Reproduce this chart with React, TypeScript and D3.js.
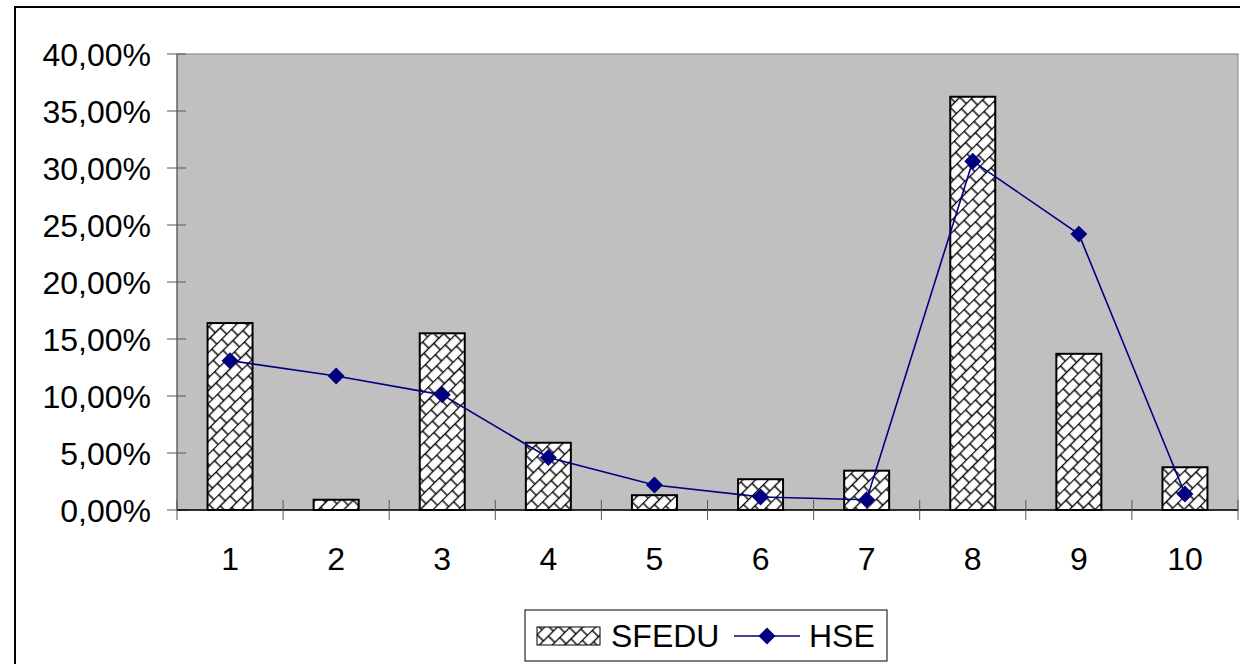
import React, { useEffect, useRef } from "react";
import * as d3 from "d3";

const categories = ["1", "2", "3", "4", "5", "6", "7", "8", "9", "10"];
const sfedu = [16.4, 0.9, 15.5, 5.9, 1.3, 2.7, 3.45, 36.25, 13.7, 3.75];
const hse = [13.1, 11.75, 10.1, 4.6, 2.2, 1.15, 0.9, 30.6, 24.2, 1.4];
const yTicks = [0, 5, 10, 15, 20, 25, 30, 35, 40];

const App = () => {
  const svgRef: any = useRef();

  useEffect(() => {
    const svg = d3.select(svgRef.current);
    svg.selectAll("*").remove();
    const width = 1240;
    const height = 664;
    const margin = { top: 54, right: 2, bottom: 154, left: 177 };
    const font = "Liberation Sans, Arial, sans-serif";
    svg.attr("width", width).attr("height", height);

    // brick-like diagonal hatch
    const defs = svg.append("defs");
    const pat = defs
      .append("pattern")
      .attr("id", "brick")
      .attr("patternUnits", "userSpaceOnUse")
      .attr("width", 14)
      .attr("height", 18)
      .attr("patternTransform", "rotate(-45)");
    pat.append("rect").attr("width", 14).attr("height", 18).attr("fill", "#fff");
    const segs = [
      [0, 0.5, 14, 0.5],
      [0, 9.5, 14, 9.5],
      [1, 0, 1, 9],
      [8, 9, 8, 18],
    ];
    segs.forEach((s) =>
      pat
        .append("line")
        .attr("x1", s[0]).attr("y1", s[1]).attr("x2", s[2]).attr("y2", s[3])
        .attr("stroke", "#000").attr("stroke-width", 1.4)
    );

    const x = d3
      .scaleBand()
      .domain(categories)
      .range([margin.left, width - margin.right]);
    const y = d3
      .scaleLinear()
      .domain([0, 40])
      .range([height - margin.bottom, margin.top]);

    // outer frame
    svg
      .append("rect")
      .attr("x", 15).attr("y", 7)
      .attr("width", 1240).attr("height", 700)
      .attr("fill", "#fff").attr("stroke", "#000").attr("stroke-width", 2);

    // plot area
    svg
      .append("rect")
      .attr("x", margin.left).attr("y", margin.top)
      .attr("width", width - margin.right - margin.left)
      .attr("height", y(0) - margin.top)
      .attr("fill", "#c0c0c0").attr("stroke", "#808080").attr("stroke-width", 1);

    // y axis
    svg
      .append("line")
      .attr("x1", margin.left).attr("x2", margin.left)
      .attr("y1", margin.top).attr("y2", y(0))
      .attr("stroke", "#555").attr("stroke-width", 1);
    svg
      .selectAll(".ytick")
      .data(yTicks)
      .join("line")
      .attr("class", "ytick")
      .attr("x1", margin.left - 10).attr("x2", margin.left + 9)
      .attr("y1", (d) => y(d)).attr("y2", (d) => y(d))
      .attr("stroke", "#555").attr("stroke-width", 1);
    svg
      .selectAll(".ylabel")
      .data(yTicks)
      .join("text")
      .attr("class", "ylabel")
      .attr("x", 151)
      .attr("y", (d) => y(d))
      .attr("dy", "0.36em")
      .attr("text-anchor", "end")
      .attr("font-family", font)
      .attr("font-size", 32)
      .text((d) => d.toFixed(2).replace(".", ",") + "%");

    // bars
    const bw = 45;
    svg
      .selectAll(".bar")
      .data(sfedu)
      .join("rect")
      .attr("class", "bar")
      .attr("x", (d, i) => x(categories[i])! + x.bandwidth() / 2 - bw / 2)
      .attr("y", (d) => y(d))
      .attr("width", bw)
      .attr("height", (d) => y(0) - y(d))
      .attr("fill", "url(#brick)")
      .attr("stroke", "#000")
      .attr("stroke-width", 2);

    // x axis
    svg
      .append("line")
      .attr("x1", margin.left).attr("x2", width - margin.right)
      .attr("y1", y(0)).attr("y2", y(0))
      .attr("stroke", "#000").attr("stroke-width", 1.5);
    const bounds = categories.map((c) => x(c)!).concat([width - margin.right]);
    svg
      .selectAll(".xtick")
      .data(bounds)
      .join("line")
      .attr("class", "xtick")
      .attr("x1", (d) => d).attr("x2", (d) => d)
      .attr("y1", y(0) - 10).attr("y2", y(0) + 10)
      .attr("stroke", "#555").attr("stroke-width", 1);
    svg
      .selectAll(".xlabel")
      .data(categories)
      .join("text")
      .attr("class", "xlabel")
      .attr("x", (d) => x(d)! + x.bandwidth() / 2)
      .attr("y", 570)
      .attr("text-anchor", "middle")
      .attr("font-family", font)
      .attr("font-size", 32)
      .text((d) => d);

    // line
    const line = d3
      .line<number>()
      .x((d, i) => x(categories[i])! + x.bandwidth() / 2)
      .y((d) => y(d));
    svg
      .append("path")
      .datum(hse)
      .attr("d", line)
      .attr("fill", "none")
      .attr("stroke", "#000080")
      .attr("stroke-width", 1.6);
    const diamond = d3.symbol().type(d3.symbolSquare).size(144);
    svg
      .selectAll(".pt")
      .data(hse)
      .join("path")
      .attr("class", "pt")
      .attr("d", diamond)
      .attr("transform", (d, i) => `translate(${x(categories[i])! + x.bandwidth() / 2},${y(d)}) rotate(45)`)
      .attr("fill", "#000080");

    // legend
    const lg = svg.append("g");
    lg.append("rect")
      .attr("x", 525).attr("y", 610).attr("width", 362).attr("height", 51)
      .attr("fill", "#fff").attr("stroke", "#000").attr("stroke-width", 1);
    lg.append("rect")
      .attr("x", 537).attr("y", 627).attr("width", 63).attr("height", 18)
      .attr("fill", "url(#brick)").attr("stroke", "#000").attr("stroke-width", 1);
    lg.append("text")
      .attr("x", 611).attr("y", 647)
      .attr("font-family", font)
      .attr("font-size", 32)
      .text("SFEDU");
    lg.append("line")
      .attr("x1", 734).attr("x2", 800).attr("y1", 636).attr("y2", 636)
      .attr("stroke", "#000080").attr("stroke-width", 1.6);
    lg.append("path")
      .attr("d", diamond)
      .attr("transform", "translate(767,636) rotate(45)")
      .attr("fill", "#000080");
    lg.append("text")
      .attr("x", 809).attr("y", 647)
      .attr("font-family", font)
      .attr("font-size", 32)
      .text("HSE");
  }, []);

  return (
    <svg
      ref={svgRef}
      style={{ position: "absolute", left: 0, top: 0, display: "block" }}
    ></svg>
  );
};

export default App;
